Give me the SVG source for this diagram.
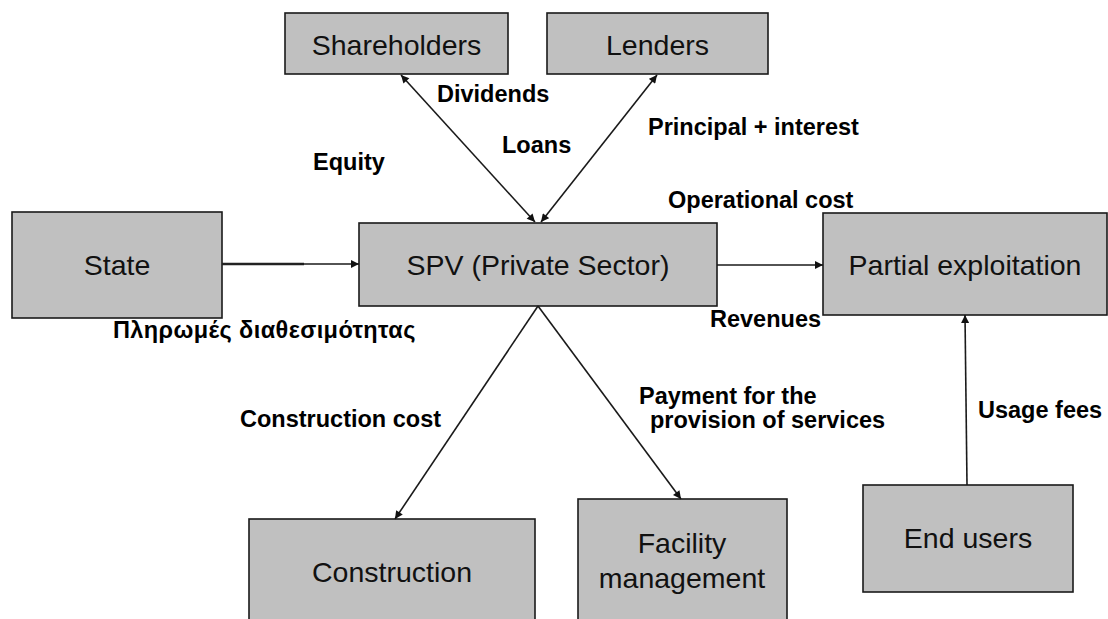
<svg xmlns="http://www.w3.org/2000/svg" width="1108" height="619" viewBox="0 0 1108 619">
<style>
.box{fill:#c0c0c0;stroke:#1a1a1a;stroke-width:1.6}
.bt{font-family:"Liberation Sans",Arial,sans-serif;font-size:28.5px;fill:#111;text-anchor:middle}
.lb{font-family:"Liberation Sans",Arial,sans-serif;font-size:23.5px;font-weight:bold;fill:#000}
.cn{stroke:#1a1a1a;stroke-width:1.6;fill:none}
</style>
<defs>
<marker id="ah" viewBox="0 0 10 10" refX="10" refY="5" markerWidth="9" markerHeight="8" markerUnits="userSpaceOnUse" orient="auto-start-reverse">
<path d="M0,0 L10,5 L0,10 z" fill="#111"/>
</marker>
</defs>
<rect width="1108" height="619" fill="#fff"/>
<g id="shareholders"><rect class="box" x="285" y="13" width="223" height="61"/><text class="bt" x="396.5" y="55">Shareholders</text></g>
<g id="lenders"><rect class="box" x="547" y="13" width="221" height="61"/><text class="bt" x="657.5" y="55">Lenders</text></g>
<g id="state"><rect class="box" x="12" y="212" width="210" height="106"/><text class="bt" x="117" y="275">State</text></g>
<g id="spv"><rect class="box" x="359" y="223" width="358" height="83"/><text class="bt" x="538" y="275">SPV (Private Sector)</text></g>
<g id="partial"><rect class="box" x="823" y="213" width="284" height="102"/><text class="bt" x="965" y="275">Partial exploitation</text></g>
<g id="construction"><rect class="box" x="249" y="519" width="286" height="115"/><text class="bt" x="392" y="582">Construction</text></g>
<g id="facility"><rect class="box" x="578" y="499" width="209" height="135"/><text class="bt" x="682" y="553">Facility</text><text class="bt" x="682" y="588">management</text></g>
<g id="endusers"><rect class="box" x="863" y="485" width="210" height="107"/><text class="bt" x="968" y="548">End users</text></g>
<g id="connectors">
<line class="cn" x1="401" y1="75" x2="535" y2="222" marker-start="url(#ah)" marker-end="url(#ah)"/>
<line class="cn" x1="657" y1="75" x2="541" y2="222" marker-start="url(#ah)" marker-end="url(#ah)"/>
<line x1="222" y1="264" x2="304" y2="264" stroke="#222" stroke-width="2.6"/>
<line class="cn" x1="300" y1="264" x2="359" y2="264" marker-end="url(#ah)"/>
<line class="cn" x1="717" y1="265" x2="823" y2="265" marker-end="url(#ah)"/>
<line class="cn" x1="538" y1="306" x2="395" y2="519" marker-end="url(#ah)"/>
<line class="cn" x1="538" y1="306" x2="681" y2="499" marker-end="url(#ah)"/>
<line class="cn" x1="967" y1="485" x2="965" y2="315" marker-end="url(#ah)"/>
</g>
<g id="labels">
<text class="lb" x="437" y="102">Dividends</text>
<text class="lb" x="502" y="153">Loans</text>
<text class="lb" x="313" y="170">Equity</text>
<text class="lb" x="648" y="135">Principal + interest</text>
<text class="lb" x="668" y="208">Operational cost</text>
<text class="lb" x="113" y="338" letter-spacing="0.4">Πληρωμές διαθεσιμότητας</text>
<text class="lb" x="710" y="327">Revenues</text>
<text class="lb" x="240" y="427">Construction cost</text>
<text class="lb" x="639" y="404">Payment for the</text>
<text class="lb" x="650" y="428">provision of services</text>
<text class="lb" x="978" y="418">Usage fees</text>
</g>
</svg>
